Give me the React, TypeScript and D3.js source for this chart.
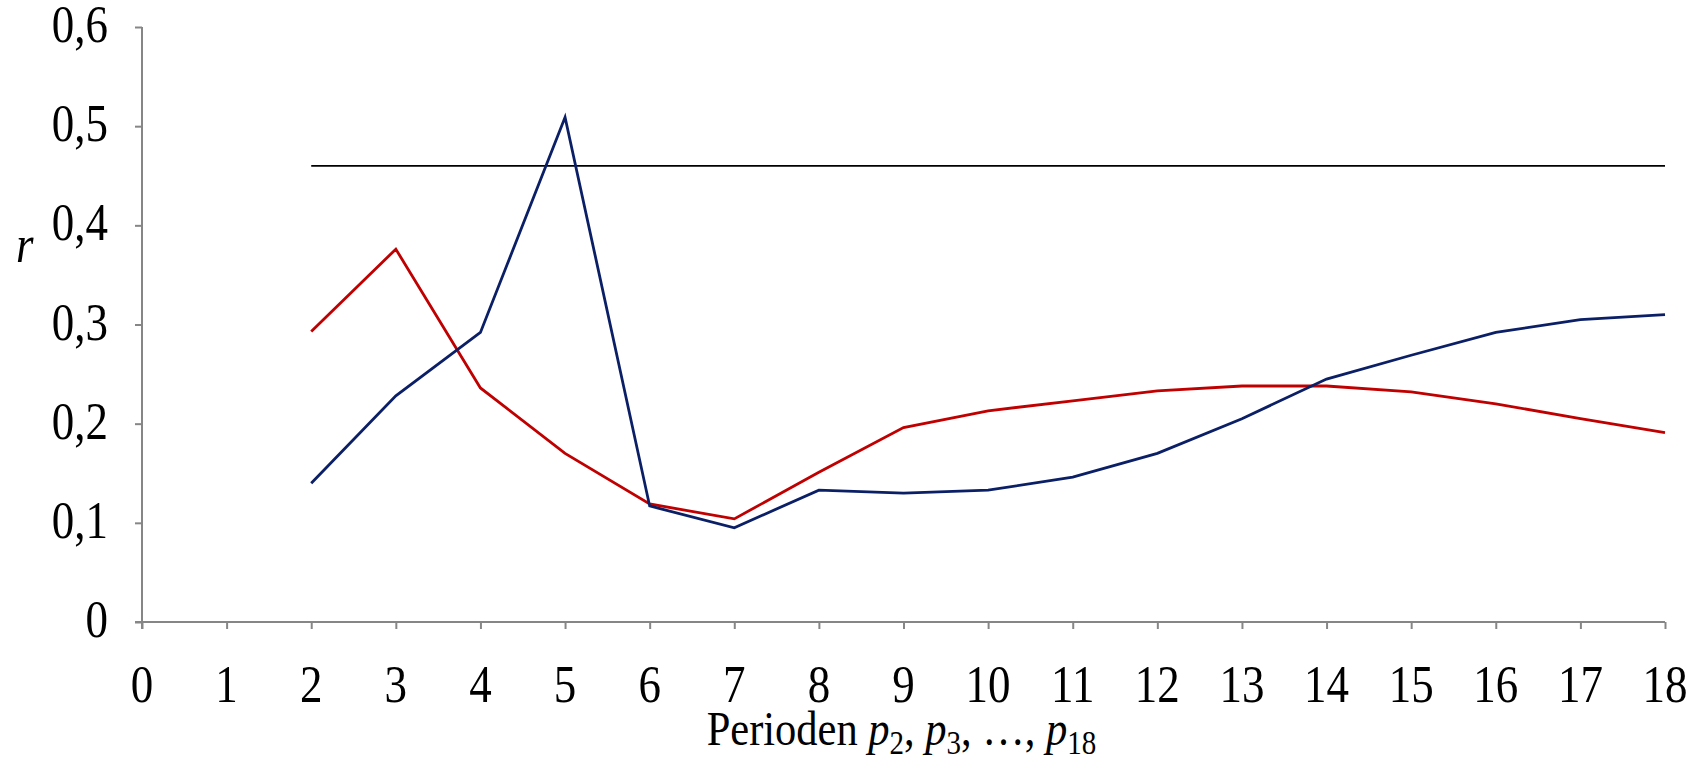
import React, { useEffect, useRef } from 'react';
import * as d3 from 'd3';

const periods = [2, 3, 4, 5, 6, 7, 8, 9, 10, 11, 12, 13, 14, 15, 16, 17, 18];
const blueValues = [0.14, 0.228, 0.292, 0.509, 0.117, 0.095, 0.133, 0.13, 0.133, 0.146, 0.17, 0.205, 0.245, 0.269, 0.292, 0.305, 0.31];
const redValues = [0.293, 0.376, 0.236, 0.17, 0.119, 0.104, 0.151, 0.196, 0.213, 0.223, 0.233, 0.238, 0.238, 0.232, 0.22, 0.205, 0.191];
const thresholdValue = 0.46;
const xTicks = d3.range(0, 19);
const yTicks = [0, 0.1, 0.2, 0.3, 0.4, 0.5, 0.6];

const W = 1699;
const H = 760;

const App = () => {
  const svgRef = useRef<SVGSVGElement | null>(null);

  useEffect(() => {
    const svg = d3.select(svgRef.current);
    svg.selectAll('*').remove();

    const margin = { top: 27, right: 34, bottom: 138, left: 142 };
    const width = W - margin.left - margin.right;
    const height = H - margin.top - margin.bottom;

    const g = svg.append('g').attr('transform', `translate(${margin.left}, ${margin.top})`);

    const xScale = d3.scaleLinear().domain([0, 18]).range([0, width]);
    const yScale = d3.scaleLinear().domain([0, 0.6]).range([height, 0]);

    const font = "'Liberation Serif', 'Times New Roman', serif";
    const axisColor = '#868686';

    // axes
    const yAxis = g.append('g').call(d3.axisLeft(yScale).tickValues(yTicks).tickSize(7).tickFormat(() => ''));
    const xAxis = g.append('g').attr('transform', `translate(0, ${height})`)
      .call(d3.axisBottom(xScale).tickValues(xTicks).tickSize(7).tickFormat(() => ''));
    [xAxis, yAxis].forEach((a) => {
      a.select('.domain').attr('stroke', axisColor).attr('stroke-width', 2);
      a.selectAll('.tick line').attr('stroke', axisColor).attr('stroke-width', 2);
    });
    xAxis.select('.domain').attr('d', `M-7,0H${width}`);
    yAxis.select('.domain').attr('d', `M0,0V${height + 7}`);

    // tick labels (slightly stretched vertically like the source)
    yTicks.forEach((t) => {
      g.append('text')
        .attr('transform', `translate(-34, ${yScale(t) + 15}) scale(1, 1.18)`)
        .attr('text-anchor', 'end')
        .style('font-family', font)
        .style('font-size', '45px')
        .text(t === 0 ? '0' : d3.format('.1f')(t).replace('.', ','));
    });
    xTicks.forEach((t) => {
      g.append('text')
        .attr('transform', `translate(${xScale(t)}, ${height + 80}) scale(1, 1.18)`)
        .attr('text-anchor', 'middle')
        .style('font-family', font)
        .style('font-size', '45px')
        .text(t);
    });

    // threshold line
    g.append('line')
      .attr('x1', xScale(periods[0]))
      .attr('x2', xScale(periods[periods.length - 1]))
      .attr('y1', yScale(thresholdValue))
      .attr('y2', yScale(thresholdValue))
      .attr('stroke', '#000')
      .attr('stroke-width', 1.8);

    const line = d3.line<number>()
      .x((_, i) => xScale(periods[i]))
      .y((d) => yScale(d));

    g.append('path')
      .datum(redValues)
      .attr('d', line)
      .attr('fill', 'none')
      .attr('stroke', '#c00000')
      .attr('stroke-width', 2.8);

    g.append('path')
      .datum(blueValues)
      .attr('d', line)
      .attr('fill', 'none')
      .attr('stroke', '#0b1f66')
      .attr('stroke-width', 2.8);

    // y label
    svg.append('text')
      .attr('transform', `translate(16, 262) scale(1, 1.18)`)
      .style('font-family', font)
      .style('font-style', 'italic')
      .style('font-size', '45px')
      .text('r');

    // x label
    const xl = svg.append('text')
      .attr('transform', `translate(${margin.left + width / 2 - 2}, 745) scale(1, 1.16)`)
      .attr('text-anchor', 'middle')
      .style('font-family', font)
      .style('font-size', '42.5px');
    xl.append('tspan').text('Perioden ');
    const parts: [string, string][] = [['2', ', '], ['3', ', …, '], ['18', '']];
    parts.forEach(([sub, after]) => {
      xl.append('tspan').style('font-style', 'italic').text('p');
      xl.append('tspan').attr('dy', 8).style('font-size', '29px').text(sub);
      if (after !== '') xl.append('tspan').attr('dy', -8).text(after);
    });
  }, []);

  return (
    <svg ref={svgRef} width={W} height={H} style={{ position: 'absolute', left: 0, top: 0, background: '#fff' }} />
  );
};

export default App;
